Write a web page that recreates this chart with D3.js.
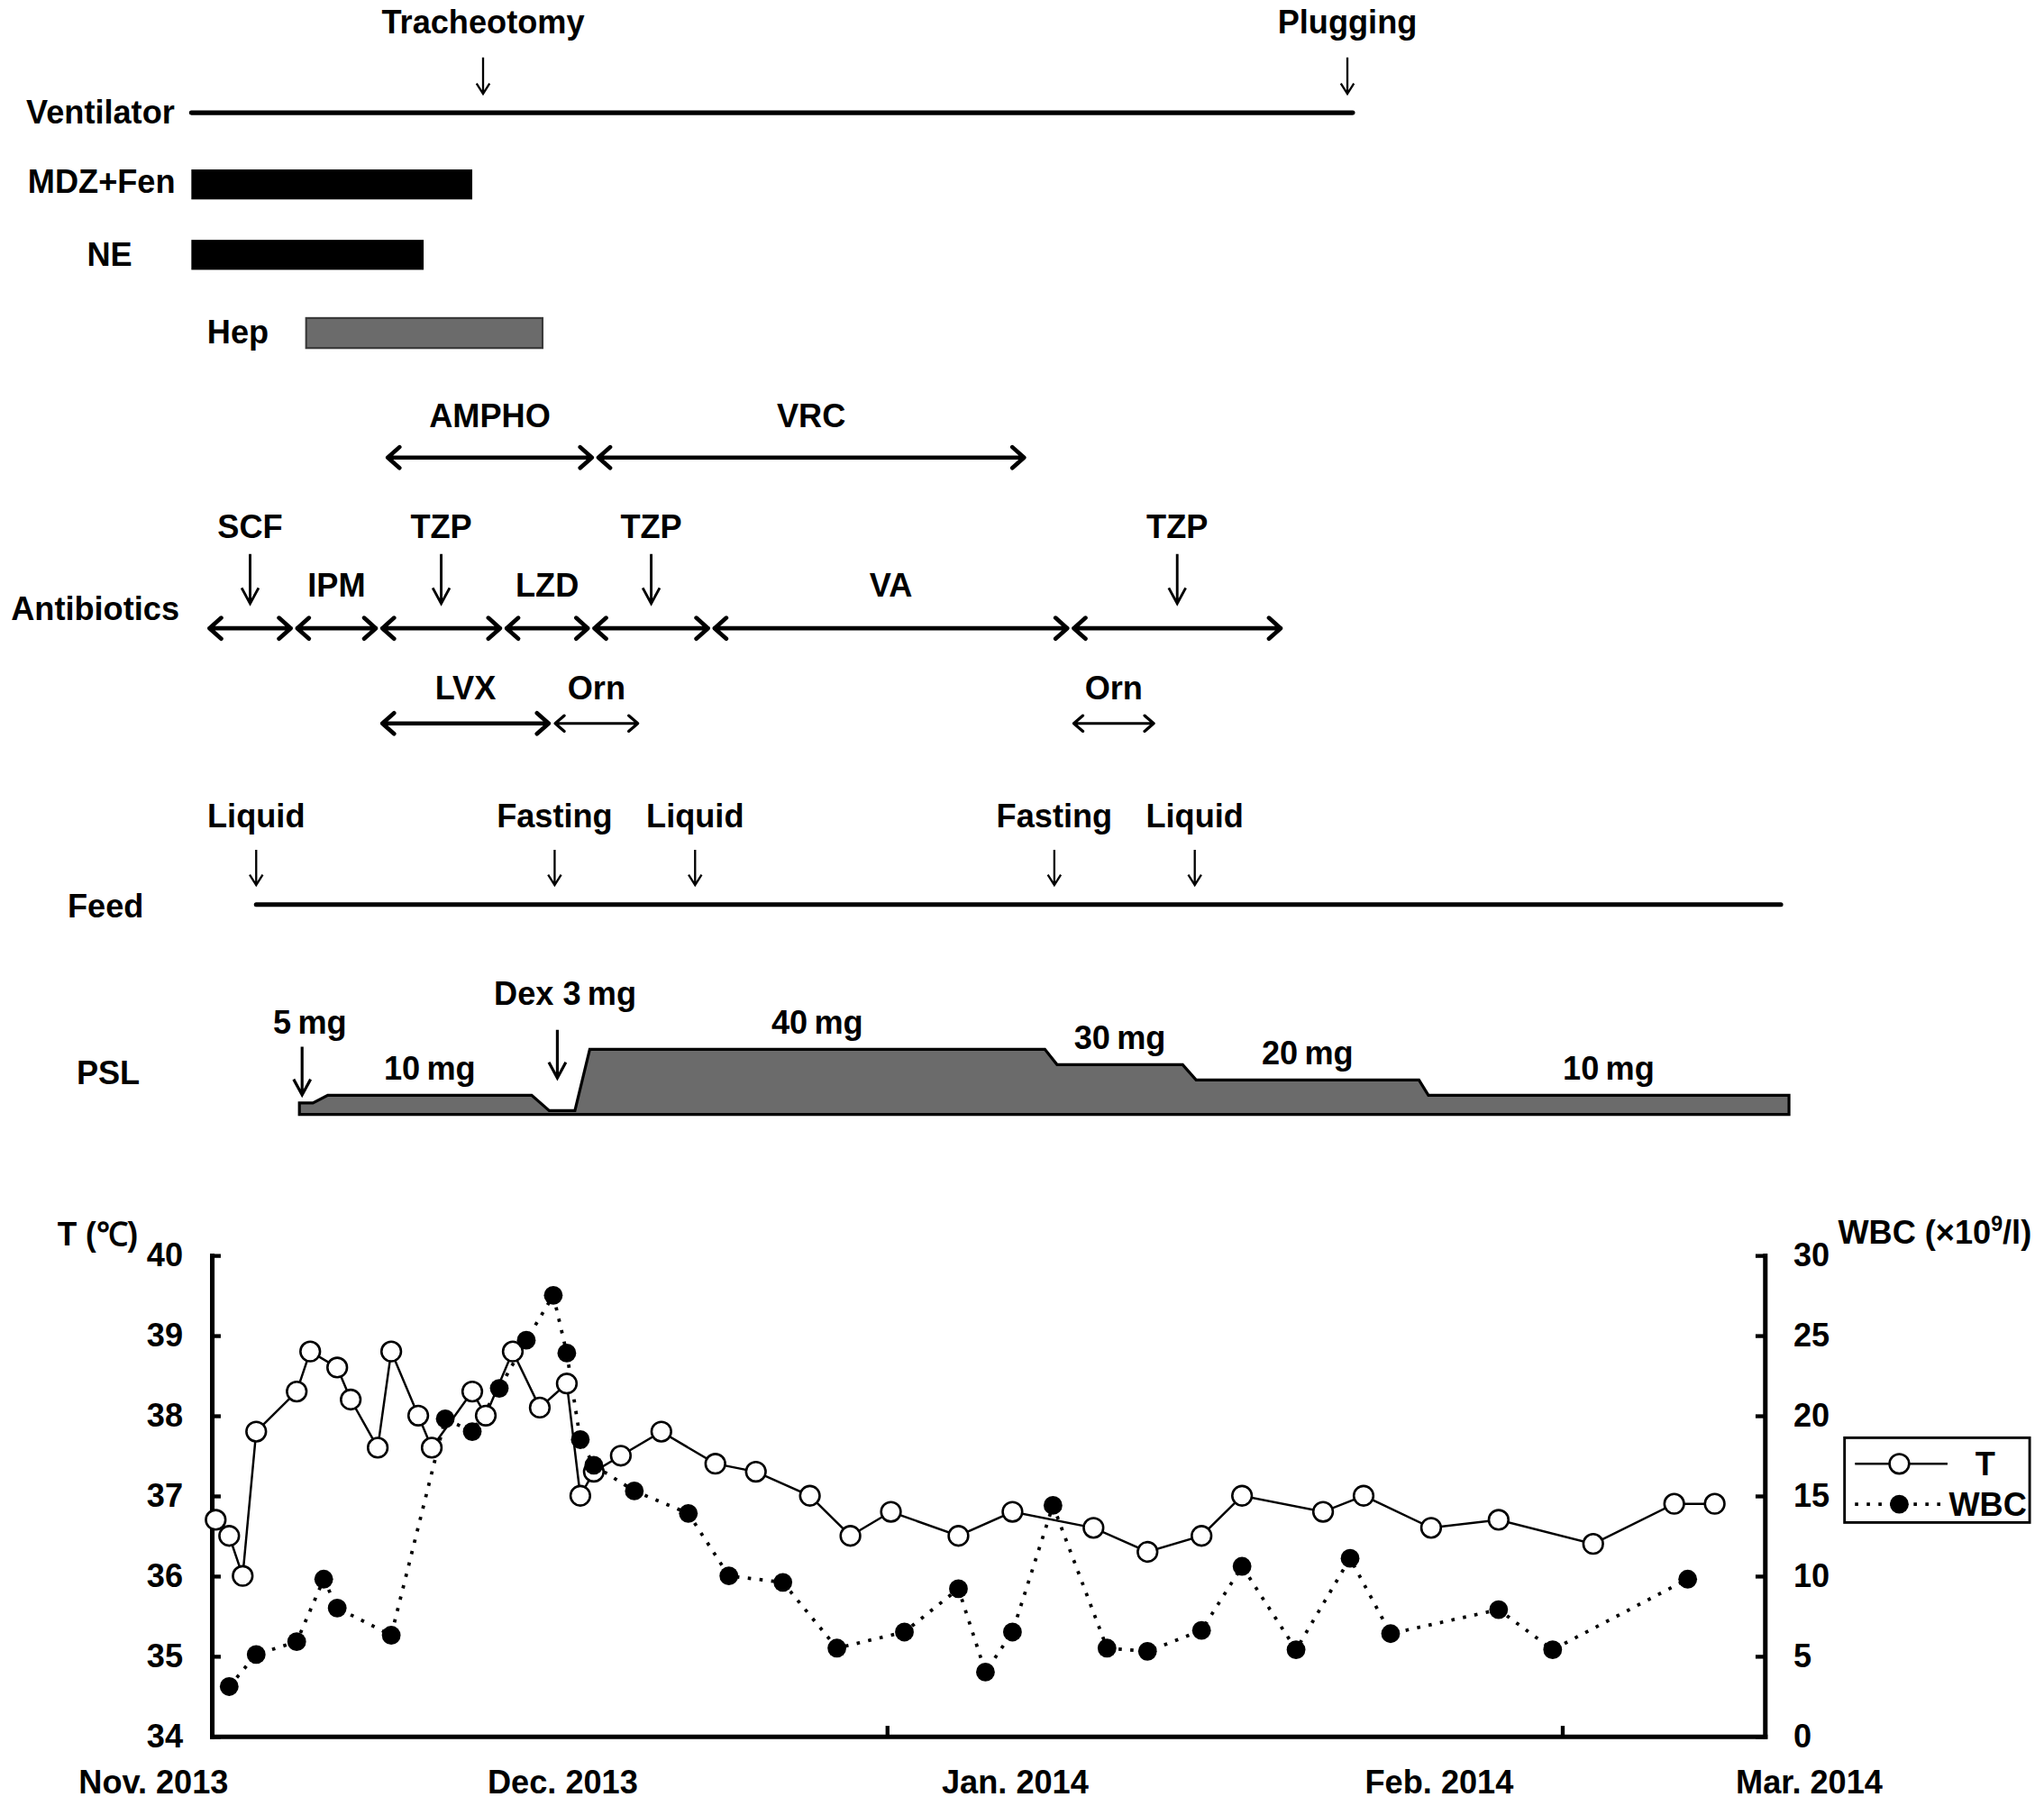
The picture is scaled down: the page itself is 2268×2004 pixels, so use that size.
<!DOCTYPE html>
<html>
<head>
<meta charset="utf-8">
<script src="https://cdn.jsdelivr.net/npm/d3@7"></script>
<style>
  body { margin: 0; background: #fff; }
  svg { display: block; }
  text { font-family: "Liberation Sans", Arial, sans-serif; font-weight: bold; font-size: 25px; fill: #000; }
</style>
</head>
<body>
<svg id="chart" width="2268" height="2004" viewBox="0 0 1568 1385.5"></svg>
<script>
// day 1 = 1 Nov 2013
const ventilator = [3.2, 89.2];
const ventEvents = ["Tracheotomy", "Plugging"];
const ventEventDays = [24.8, 88.8];

const drugNames = ["MDZ+Fen", "NE", "Hep"];
const drugStart = [3.2, 3.2, 11.7];
const drugEnd = [24.0, 20.4, 29.2];

const fungNames = ["AMPHO", "VRC"];
const fungBounds = [17.5, 33.1, 65.1];

const abxNames = ["SCF", "IPM", "TZP", "LZD", "TZP", "VA", "TZP"];
const abxBounds = [4.3, 10.8, 17.1, 26.3, 32.8, 41.7, 68.3, 84.1];

const abx2Names = ["LVX", "Orn", "Orn"];
const abx2Start = [17.1, 29.9, 68.3];
const abx2End = [29.9, 36.5, 74.7];

const feedEvents = ["Liquid", "Fasting", "Liquid", "Fasting", "Liquid"];
const feedDays = [8.0, 30.1, 40.5, 67.1, 77.5];
const feedEnd = 120.9;

const pslDays = [11.2, 12.2, 13.3, 28.4, 29.7, 31.6, 32.7, 66.4, 67.3, 76.6, 77.6, 94.1, 94.8, 121.5];
const pslDose = [5, 5, 10, 10, 0, 0, 40, 40, 30, 30, 20, 20, 10, 10];
const pslLabels = ["", "10\u2009mg", "", "40\u2009mg", "30\u2009mg", "20\u2009mg", "10\u2009mg"];
const pslEvents = ["5\u2009mg", "Dex 3\u2009mg"];
const pslEventDays = [11.4, 30.3];

const tDays = [5, 6, 7, 8, 11, 12, 14, 15, 17, 18, 20, 21, 24, 25, 27, 29, 31, 32, 33, 35,
  38, 42, 45, 49, 52, 55, 60, 64, 70, 74, 78, 81, 87, 90, 95, 100, 107, 113, 116];
const tValues = [36.7, 36.5, 36.0, 37.8, 38.3, 38.8, 38.6, 38.2, 37.6, 38.8, 38.0, 37.6, 38.3, 38.0, 38.8, 38.1, 38.4, 37.0, 37.3, 37.5,
  37.8, 37.4, 37.3, 37.0, 36.5, 36.8, 36.5, 36.8, 36.6, 36.3, 36.5, 37.0, 36.8, 37.0, 36.6, 36.7, 36.4, 36.9, 36.9];
const wbcDays = [6, 8, 11, 13, 14, 18, 22, 24, 26, 28, 30, 31, 32, 33, 36, 40, 43, 47, 51, 56,
  60, 62, 64, 67, 71, 74, 78, 81, 85, 89, 92, 100, 104, 114];
const wbcValues = [3.1, 5.1, 5.9, 9.8, 8.0, 6.3, 19.8, 19.0, 21.7, 24.7, 27.5, 23.9, 18.5, 16.9, 15.3, 13.9, 10.0, 9.6, 5.5, 6.5,
  9.2, 4.0, 6.5, 14.4, 5.5, 5.3, 6.6, 10.6, 5.4, 11.1, 6.4, 7.9, 5.4, 9.8];

const monthLabels = ["Nov. 2013", "Dec. 2013", "Jan. 2014", "Feb. 2014", "Mar. 2014"];
const monthLabelDays = [0.4, 30.7, 64.2, 95.6, 123.0];
const axisDays = [4.7, 119.7];
const tTicks = [34, 35, 36, 37, 38, 39, 40];
const wbcTicks = [0, 5, 10, 15, 20, 25, 30];

const svg = d3.select("#chart");
const x = d3.scaleLinear().domain([1, 121]).range([124, 1367.2]);

function label(g, t, px, cy, anchor) {
  return g.append("text").attr("x", px).attr("y", cy).attr("dy", "0.35em")
    .attr("text-anchor", anchor || "middle").text(t);
}
function vArrow(g, px, y1, y2, hw, hl, sw) {
  g.append("path")
    .attr("d", `M${px},${y1}L${px},${y2}M${px - hw},${y2 - hl}L${px},${y2}L${px + hw},${y2 - hl}`)
    .attr("fill", "none").attr("stroke", "#000").attr("stroke-width", sw);
}
function hArrow(g, x1, x2, y, hw, hl, sw) {
  g.append("path")
    .attr("d", `M${x1},${y}L${x2},${y}M${x1 + hl},${y - hw}L${x1},${y}L${x1 + hl},${y + hw}` +
      `M${x2 - hl},${y - hw}L${x2},${y}L${x2 - hl},${y + hw}`)
    .attr("fill", "none").attr("stroke", "#000").attr("stroke-width", sw)
    .attr("stroke-linecap", "round").attr("stroke-linejoin", "round");
}
const mid = (a, b) => (x(a) + x(b)) / 2;

// ---- ventilator & infusions
const tp = svg.append("g");
tp.append("line")
  .attr("x1", x(ventilator[0])).attr("x2", x(ventilator[1]))
  .attr("y1", 86.5).attr("y2", 86.5)
  .attr("stroke", "#000").attr("stroke-width", 3.5).attr("stroke-linecap", "round");
ventEvents.forEach((t, i) => {
  label(tp, t, x(ventEventDays[i]), 17);
  vArrow(tp, x(ventEventDays[i]), 44, 72, 5, 8, 1.6);
});
label(tp, "Ventilator", 134, 86, "end");

const drugY = [130, 184, 244];
const drugFill = ["#000", "#000", "#6b6b6b"];
const drugLabelPos = [[134.5, 139, "end"], [84, 195.5, "middle"], [182.5, 255, "middle"]];
drugNames.forEach((n, i) => {
  tp.append("rect")
    .attr("x", x(drugStart[i])).attr("width", x(drugEnd[i]) - x(drugStart[i]))
    .attr("y", drugY[i]).attr("height", 23)
    .attr("fill", drugFill[i])
    .attr("stroke", i === 2 ? "#3a3a3a" : "none").attr("stroke-width", 1.5);
  label(tp, n, drugLabelPos[i][0], drugLabelPos[i][1], drugLabelPos[i][2]);
});

// ---- antifungals / antibiotics
const ab = svg.append("g");
const pad = 2.5;
fungNames.forEach((n, i) => {
  const a = fungBounds[i], b = fungBounds[i + 1];
  hArrow(ab, x(a) + pad, x(b) - pad, 351, 8, 9, 3.2);
  label(ab, n, mid(a, b), 319);
});
abxNames.forEach((n, i) => {
  const a = abxBounds[i], b = abxBounds[i + 1];
  hArrow(ab, x(a) + pad, x(b) - pad, 482, 8, 9, 3.2);
  if (i % 2 === 0) {
    label(ab, n, mid(a, b), 404);
    vArrow(ab, mid(a, b), 425, 463, 6.5, 12, 2);
  } else {
    label(ab, n, mid(a, b), 449);
  }
});
abx2Names.forEach((n, i) => {
  const a = abx2Start[i], b = abx2End[i];
  const thin = n === "Orn";
  hArrow(ab, x(a) + pad, x(b) - pad, 555, thin ? 6 : 8, thin ? 7 : 9, thin ? 2.2 : 3.2);
  label(ab, n, mid(a, b), 528);
});
label(ab, "Antibiotics", 73, 467);

// ---- feed
const fd = svg.append("g");
fd.append("line")
  .attr("x1", x(feedDays[0])).attr("x2", x(feedEnd))
  .attr("y1", 694).attr("y2", 694)
  .attr("stroke", "#000").attr("stroke-width", 3.5).attr("stroke-linecap", "round");
feedEvents.forEach((t, i) => {
  label(fd, t, x(feedDays[i]), 626);
  vArrow(fd, x(feedDays[i]), 652, 679, 5, 8, 1.6);
});
label(fd, "Feed", 81, 695);

// ---- PSL
const ps = svg.append("g");
const pslBase = 855;
const yPsl = d3.scaleLinear().domain([0, 40]).range([852, 805]);
const pslPts = pslDays.map((d, i) => [d, pslDose[i]]);
ps.append("path")
  .attr("d", d3.area().x(d => x(d[0])).y0(pslBase).y1(d => yPsl(d[1]))(pslPts) + "Z")
  .attr("fill", "#6b6b6b").attr("stroke", "#000").attr("stroke-width", 2.2)
  .attr("stroke-linejoin", "miter");
pslLabels.forEach((t, k) => {
  if (!t) return;
  label(ps, t, mid(pslDays[2 * k], pslDays[2 * k + 1]), yPsl(pslDose[2 * k]) - 21);
});
const pslEventTop = [803, 790];
const pslEventLabelY = [784, 762];
pslEvents.forEach((t, i) => {
  const px = x(pslEventDays[i]);
  vArrow(ps, px, pslEventTop[i], pslEventTop[i] + 37, 6.5, 12, 2.2);
  label(ps, t, px + 6, pslEventLabelY[i]);
});
label(ps, "PSL", 83, 823);

// ---- temperature / WBC chart
const ch = svg.append("g");
const yT = d3.scaleLinear().domain([34, 40]).range([1332, 963]);
const yW = d3.scaleLinear().domain([0, 30]).range([1332, 963]);
const xAxisScale = x.copy().domain(axisDays).range(axisDays.map(x));

const gl = ch.append("g").attr("transform", `translate(${x(axisDays[0])},0)`)
  .call(d3.axisLeft(yT).tickValues(tTicks).tickFormat(d3.format("d"))
    .tickSize(-7).tickSizeOuter(0).tickPadding(22));
const gr = ch.append("g").attr("transform", `translate(${x(axisDays[1])},0)`)
  .call(d3.axisRight(yW).tickValues(wbcTicks).tickFormat(d3.format("d"))
    .tickSize(-7).tickSizeOuter(0).tickPadding(22));
const gb = ch.append("g").attr("transform", `translate(0,${yT(34)})`)
  .call(d3.axisBottom(xAxisScale).tickValues(d3.range(axisDays[0], axisDays[1], 50))
    .tickSize(-8).tickSizeOuter(0).tickFormat(""));
[gl, gr, gb].forEach(g => {
  g.attr("font-size", null).attr("font-family", null);
  g.select(".domain").attr("stroke-width", 3.5).attr("stroke-linecap", "square");
  g.selectAll(".tick line").attr("stroke-width", 3);
});

monthLabels.forEach((t, i) => label(ch, t, x(monthLabelDays[i]), 1367));
label(ch, "T (\u2103)", 44, 947, "start")
  .attr("textLength", 62).attr("lengthAdjust", "spacingAndGlyphs");
const wt = ch.append("text").attr("x", 1410).attr("y", 945).attr("dy", "0.35em");
wt.append("tspan").text("WBC (\u00d710");
wt.append("tspan").attr("dy", "-9").style("font-size", "16px").text("9");
wt.append("tspan").attr("dy", "9").text("/l)");

const tPts = tDays.map((d, i) => [d, tValues[i]]);
const wPts = wbcDays.map((d, i) => [d, wbcValues[i]]);

ch.append("path")
  .attr("d", d3.line().x(d => x(d[0])).y(d => yT(d[1]))(tPts))
  .attr("fill", "none").attr("stroke", "#000").attr("stroke-width", 1.7);
ch.append("path")
  .attr("d", d3.line().x(d => x(d[0])).y(d => yW(d[1]))(wPts))
  .attr("fill", "none").attr("stroke", "#000").attr("stroke-width", 2.6)
  .attr("stroke-dasharray", "2.5,6.5");

ch.selectAll("circle.t").data(tPts).join("circle").attr("class", "t")
  .attr("cx", d => x(d[0])).attr("cy", d => yT(d[1])).attr("r", 7.5)
  .attr("fill", "#fff").attr("stroke", "#000").attr("stroke-width", 1.8);
ch.selectAll("circle.w").data(wPts).join("circle").attr("class", "w")
  .attr("cx", d => x(d[0])).attr("cy", d => yW(d[1])).attr("r", 7.2)
  .attr("fill", "#000");

// legend
const lg = ch.append("g");
lg.append("rect").attr("x", 1415).attr("y", 1103).attr("width", 142).attr("height", 65)
  .attr("fill", "#fff").attr("stroke", "#000").attr("stroke-width", 2);
lg.append("line").attr("x1", 1423).attr("x2", 1494).attr("y1", 1123).attr("y2", 1123)
  .attr("stroke", "#000").attr("stroke-width", 1.7);
lg.append("circle").attr("cx", 1457).attr("cy", 1123).attr("r", 7.5)
  .attr("fill", "#fff").attr("stroke", "#000").attr("stroke-width", 1.8);
label(lg, "T", 1523, 1123);
lg.append("line").attr("x1", 1423).attr("x2", 1494).attr("y1", 1154).attr("y2", 1154)
  .attr("stroke", "#000").attr("stroke-width", 2.6).attr("stroke-dasharray", "2.5,6.5");
lg.append("circle").attr("cx", 1457).attr("cy", 1154).attr("r", 7.2).attr("fill", "#000");
label(lg, "WBC", 1495, 1154, "start");
</script>
</body>
</html>
